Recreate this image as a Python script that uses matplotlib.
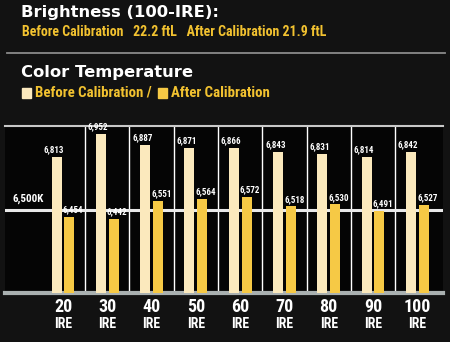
import matplotlib.pyplot as plt
from matplotlib.patches import Rectangle
from matplotlib.transforms import blended_transform_factory

# data
ire_levels = ["20", "30", "40", "50", "60", "70", "80", "90", "100"]
before_cal = [6813, 6952, 6887, 6871, 6866, 6843, 6831, 6814, 6842]
after_cal = [6454, 6442, 6551, 6564, 6572, 6518, 6530, 6491, 6527]
target_k = 6500
bright_before = 22.2
bright_after = 21.9

W, H = 450, 342
BG = '#121212'
CREAM = '#fbe9bd'
GOLD = '#f6c945'
YELLOW = '#f2c230'
NARROW = ['Roboto Condensed', 'DejaVu Sans']
HEAVY = ['DejaVu Sans']


def px(x, y):
    return x / W, 1 - y / H


fig = plt.figure(figsize=(W / 100, H / 100), dpi=100, facecolor=BG)

# header
fig.text(*px(21, 13), "Brightness (100-IRE):", color='white', fontsize=11.8,
         fontweight='bold', va='center', ha='left', family=HEAVY)
fig.text(*px(22, 32), "Before Calibration   {} ftL   After Calibration {} ftL".format(bright_before, bright_after),
         color=YELLOW, fontsize=10, fontweight='bold', va='center', ha='left', family=NARROW)
fig.add_artist(plt.Line2D([7 / W, 445 / W], [1 - 52.5 / H] * 2, color='#8a8a8a', lw=1.3,
                          transform=fig.transFigure))
fig.text(*px(21, 72), "Color Temperature", color='white', fontsize=11.8,
         fontweight='bold', va='center', ha='left', family=HEAVY)
fig.add_artist(Rectangle(px(22, 98), 9 / W, 10 / H, color=CREAM, transform=fig.transFigure))
fig.text(*px(35, 93), "Before Calibration /", color=YELLOW, fontsize=10.7,
         fontweight='bold', va='center', ha='left', family=NARROW)
fig.add_artist(Rectangle(px(158, 98), 9 / W, 10 / H, color=GOLD, transform=fig.transFigure))
fig.text(*px(171, 93), "After Calibration", color=YELLOW, fontsize=10.7,
         fontweight='bold', va='center', ha='left', family=NARROW)

# chart area
ax = fig.add_axes([5 / W, 49 / H, 438 / W, 167 / H])
ax.set_facecolor('#050505')
n = len(ire_levels)
xs = list(range(n))
bw = 0.225
off = 0.145
ax.bar([x - off for x in xs], before_cal, width=bw, color=CREAM, zorder=3)
ax.bar([x + off for x in xs], after_cal, width=bw, color=GOLD, zorder=3)
ax.set_ylim(6000, 7000)
ax.set_xlim(-1.31, 8.58)

for x in range(n - 1):
    ax.axvline(x + 0.5, color='white', lw=1.0, zorder=1)
ax.axhline(target_k, color='#e8e8e8', lw=2.2, zorder=2)

for i in range(n):
    ax.annotate("{:,}".format(before_cal[i]), (xs[i] - off - 0.06, before_cal[i]), xytext=(0, 2),
                textcoords='offset points', color='white', fontsize=6.5, fontweight='bold',
                ha='center', va='bottom', family=NARROW, zorder=4)
    ax.annotate("{:,}".format(after_cal[i]), (xs[i] + off + 0.08, after_cal[i]), xytext=(0, 2),
                textcoords='offset points', color='white', fontsize=6.5, fontweight='bold',
                ha='center', va='bottom', family=NARROW, zorder=4)

ax.annotate("6,500K", (-0.78, target_k), xytext=(0, 4), textcoords='offset points',
            color='white', fontsize=8, fontweight='bold', ha='center', va='bottom', family=NARROW)

for s in ['left', 'right']:
    ax.spines[s].set_visible(False)
ax.spines['top'].set_color('#c8c8c8')
ax.spines['top'].set_linewidth(1.5)
ax.spines['bottom'].set_color('#a9b0b0')
ax.spines['bottom'].set_linewidth(3)
ax.set_xticks([])
ax.set_yticks([])

trans = blended_transform_factory(ax.transData, fig.transFigure)
for i in range(n):
    ax.text(xs[i], 1 - 307 / H, ire_levels[i], color='white', fontsize=13, fontweight='bold',
            ha='center', va='center', family=NARROW, transform=trans)
    ax.text(xs[i], 1 - 324 / H, "IRE", color='white', fontsize=10, fontweight='bold',
            ha='center', va='center', family=NARROW, transform=trans)

fig.savefig('out.png', dpi=100, facecolor=BG)
